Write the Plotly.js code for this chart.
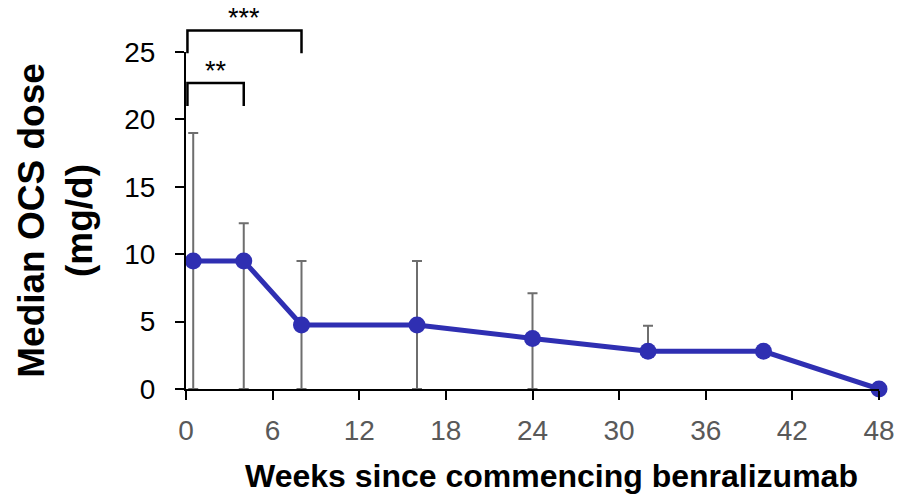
<!DOCTYPE html>
<html>
<head>
<meta charset="utf-8">
<script src="https://cdn.plot.ly/plotly-3.0.1.min.js"></script>
<style>html,body{margin:0;padding:0;background:#fff;}#chart{width:902px;height:496px;}</style>
</head>
<body>
<div id="chart"></div>
<script>
// ---- data ----
var weeks = [0.5, 4, 8, 16, 24, 32, 40, 48];
var medianDose = [9.5, 9.5, 4.75, 4.75, 3.75, 2.8, 2.8, 0];
var upperBound = [19, 12.3, 9.5, 9.5, 7.1, 4.7, 2.8, 0];
var lowerBound = [0, 0, 0, 0, 0, 2.8, 2.8, 0];
var xTicks = [0, 6, 12, 18, 24, 30, 36, 42, 48];
var yTicks = [0, 5, 10, 15, 20, 25];

// significance brackets (week from, week to, bracket top, leg bottom, label)
var bracketFrom = [0.1, 0.1];
var bracketTo = [4, 8];
var bracketTop = [22.7, 26.6];
var bracketLeg = [21.0, 24.9];
var bracketLabel = ['**', '***'];

var xTitle = 'Weeks since commencing benralizumab';
var yTitle = 'Median OCS dose<br>(mg/d)';

var yRange = [0, 25];
var xRange = [0, 48];

var errPlus = upperBound.map(function (u, i) { return u - medianDose[i]; });
var errMinus = lowerBound.map(function (l, i) { return medianDose[i] - l; });

var trace = {
  type: 'scatter',
  mode: 'lines+markers',
  x: weeks,
  y: medianDose,
  cliponaxis: false,
  line: { color: '#2F2FB2', width: 5 },
  marker: { color: '#2F2FB2', size: 17 },
  error_y: {
    type: 'data', symmetric: false,
    array: errPlus, arrayminus: errMinus,
    color: '#6E6E6E', thickness: 2, width: 5
  },
  hoverinfo: 'x+y'
};

function yDom(v) { return (v - yRange[0]) / (yRange[1] - yRange[0]); }

var shapes = [];
var annotations = [];
for (var i = 0; i < bracketFrom.length; i++) {
  shapes.push({
    type: 'path', xref: 'x', yref: 'y domain',
    path: 'M ' + bracketFrom[i] + ',' + yDom(bracketLeg[i]) +
          ' L ' + bracketFrom[i] + ',' + yDom(bracketTop[i]) +
          ' L ' + bracketTo[i] + ',' + yDom(bracketTop[i]) +
          ' L ' + bracketTo[i] + ',' + yDom(bracketLeg[i]),
    line: { color: '#000', width: 2.5 }
  });
  annotations.push({
    xref: 'x', yref: 'y domain', x: (bracketFrom[i] + bracketTo[i]) / 2, y: yDom(bracketTop[i]),
    yanchor: 'bottom', xanchor: 'center', showarrow: false,
    text: bracketLabel[i], yshift: -5,
    font: { family: 'Liberation Sans, Arial, sans-serif', size: 27, color: '#000' }
  });
}

// x-axis title (placed as text below the axis, slightly right of centre as in the reference)
annotations.push({
  xref: 'paper', yref: 'paper', x: 0.527, y: -0.258,
  xanchor: 'center', yanchor: 'middle', showarrow: false,
  text: xTitle,
  font: { family: 'Liberation Sans, Arial, sans-serif', size: 32, color: '#000', weight: 'bold' }
});

var layout = {
  width: 902, height: 496,
  margin: { l: 186, r: 23, t: 52, b: 107 },
  paper_bgcolor: '#fff', plot_bgcolor: '#fff',
  showlegend: false,
  font: { family: 'Liberation Sans, Arial, sans-serif' },
  xaxis: {
    range: xRange, tickmode: 'array', tickvals: xTicks,
    ticks: 'outside', ticklen: 9, tickwidth: 2, tickcolor: '#000',
    showline: true, linecolor: '#000', linewidth: 2,
    showgrid: false, zeroline: false,
    tickfont: { size: 28, color: '#595959' },
    ticklabelstandoff: 6
  },
  yaxis: {
    range: yRange, tickmode: 'array', tickvals: yTicks,
    ticks: 'outside', ticklen: 9, tickwidth: 2, tickcolor: '#000',
    showline: true, linecolor: '#000', linewidth: 2,
    showgrid: false, zeroline: false,
    tickfont: { size: 28, color: '#000' },
    ticklabelstandoff: 14,
    title: { text: yTitle, standoff: 20,
             font: { size: 37, color: '#000', weight: 'bold' } }
  },
  shapes: shapes,
  annotations: annotations
};

Plotly.newPlot('chart', [trace], layout, { displayModeBar: false, staticPlot: true });
</script>
</body>
</html>
